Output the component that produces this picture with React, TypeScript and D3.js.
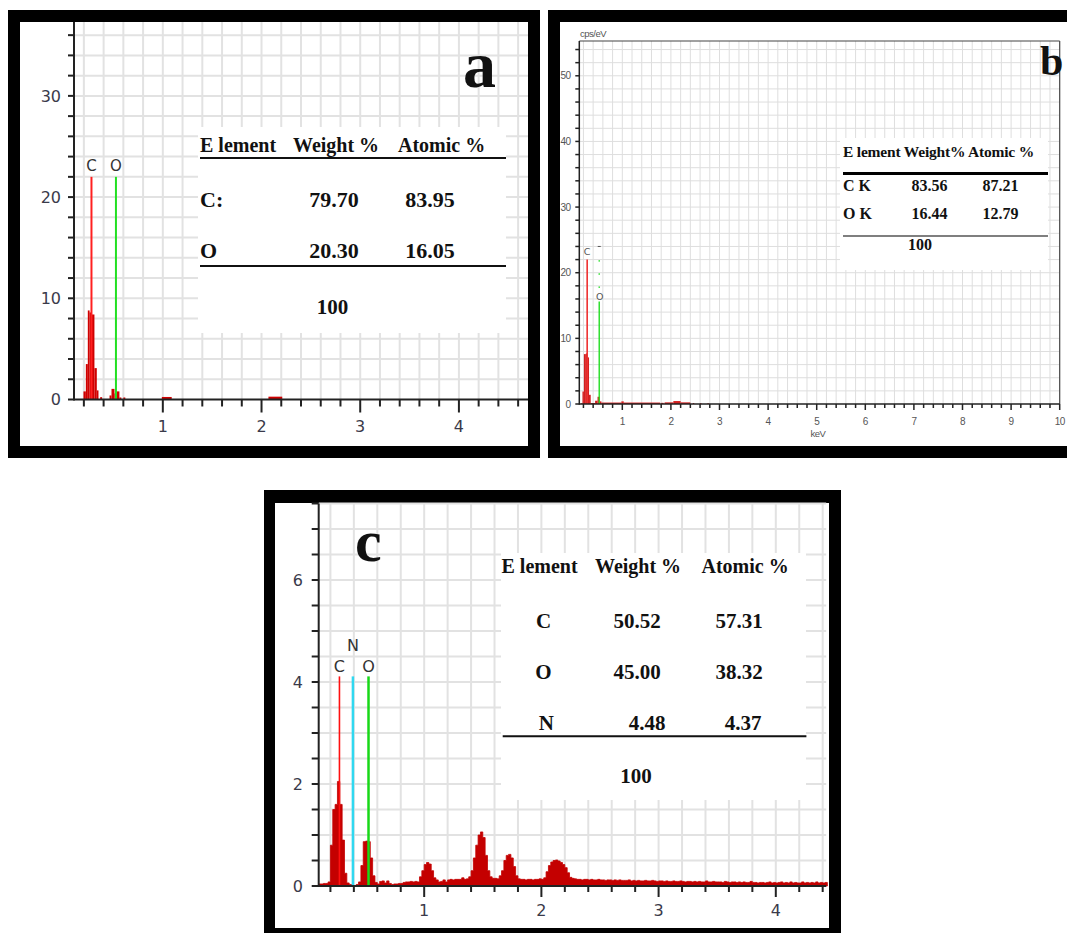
import React from "react";
import * as d3 from "d3";

// ---------- panel a (EDS spectrum, bins in keV) ----------
const aBinStart = [0.196, 0.22, 0.24, 0.258, 0.276, 0.307, 0.331, 0.365, 0.46, 0.48, 0.51, 0.53, 0.56, 0.6, 0.99, 2.07];
const aBinEnd = [0.22, 0.24, 0.258, 0.276, 0.307, 0.331, 0.348, 0.385, 0.48, 0.51, 0.53, 0.56, 0.58, 0.62, 1.09, 2.21];
const aCounts = [0.8, 3.5, 8.8, 8.6, 8.4, 3.1, 0.9, 0.23, 0.4, 1.05, 0.6, 0.8, 0.2, 0.2, 0.25, 0.28];
const aElements = ["C", "O"];
const aElementKeV = [0.277, 0.525];
const aElementTop = [22, 22];
const aYTicks = [0, 10, 20, 30];
const aXTicks = [1, 2, 3, 4];
const aHeader = ["E lement", "Weight %", "Atomic %"];
const aRowEl = ["C:", "O"];
const aWeight = ["79.70", "20.30"];
const aAtomic = ["83.95", "16.05"];

// ---------- panel b ----------
const bBinStart = [0.15, 0.18, 0.21, 0.25, 0.28, 0.315, 0.35, 0.44, 0.49, 0.54, 0.57, 0.98, 1.03, 1.8, 1.87, 2.05, 2.2, 2.45, 2.6, 2.75];
const bBinEnd = [0.18, 0.21, 0.25, 0.28, 0.315, 0.35, 0.44, 0.49, 0.54, 0.57, 0.98, 1.03, 1.78, 1.85, 2.05, 2.2, 2.4, 2.48, 2.63, 2.78];
const bCounts = [0.1, 1.9, 7.6, 7.7, 7.1, 1.4, 0.15, 0.5, 1.1, 0.4, 0.22, 0.4, 0.22, 0.18, 0.25, 0.45, 0.25, 0.15, 0.12, 0.12];
const bElements = ["C", "O"];
const bElementKeV = [0.277, 0.525];
const bElementTop = [22, 15.6];
const bYTicks = [0, 10, 20, 30, 40, 50];
const bXTicks = [1, 2, 3, 4, 5, 6, 7, 8, 9, 10];
const bRowEl = ["C K", "O K"];
const bWeight = ["83.56", "16.44"];
const bAtomic = ["87.21", "12.79"];

// ---------- panel c (channels of 0.02 keV from 0.10 keV) ----------
const cStartKeV = 0.1;
const cStepKeV = 0.02;
const cCounts = [
  0.04, 0.04, 0.05, 0.05, 0.08, 0.8, 1.5, 1.6, 2.05, 1.6,
  0.9, 0.25, 0.06, 0.03, 0.02, 0.0, 0.03, 0.08, 0.4, 0.87,
  0.88, 0.87, 0.55, 0.2, 0.07, 0.04, 0.09, 0.1, 0.06, 0.1,
  0.05, 0.03, 0.04, 0.04, 0.05, 0.05, 0.07, 0.08, 0.08, 0.09,
  0.08, 0.09, 0.08, 0.18, 0.3, 0.42, 0.46, 0.43, 0.3, 0.16,
  0.12, 0.08, 0.09, 0.12, 0.08, 0.12, 0.13, 0.12, 0.13, 0.13,
  0.13, 0.16, 0.13, 0.14, 0.18, 0.3, 0.55, 0.8, 1.0, 1.06,
  0.95, 0.6, 0.3, 0.18, 0.15, 0.15, 0.14, 0.2, 0.3, 0.5,
  0.6, 0.62, 0.55, 0.38, 0.2, 0.14, 0.13, 0.13, 0.12, 0.13,
  0.13, 0.12, 0.13, 0.13, 0.14, 0.13, 0.16, 0.28, 0.4, 0.47,
  0.5, 0.51, 0.49, 0.46, 0.42, 0.36, 0.26, 0.17, 0.15, 0.14,
  0.13, 0.13, 0.12, 0.13, 0.13, 0.12, 0.13, 0.12, 0.12, 0.13,
  0.12, 0.12, 0.11, 0.12, 0.12, 0.11, 0.12, 0.11, 0.12, 0.11,
  0.11, 0.11, 0.12, 0.1, 0.11, 0.1, 0.11, 0.1, 0.1, 0.11,
  0.1, 0.1, 0.11, 0.1, 0.09, 0.1, 0.1, 0.09, 0.1, 0.09,
  0.09, 0.1, 0.09, 0.09, 0.1, 0.09, 0.08, 0.09, 0.09, 0.08,
  0.09, 0.08, 0.09, 0.08, 0.08, 0.1, 0.08, 0.08, 0.09, 0.08,
  0.08, 0.08, 0.07, 0.09, 0.08, 0.07, 0.08, 0.08, 0.07, 0.08,
  0.07, 0.08, 0.07, 0.07, 0.09, 0.07, 0.07, 0.06, 0.07, 0.07,
  0.06, 0.07, 0.08, 0.06, 0.07, 0.06, 0.07, 0.08, 0.06, 0.07,
  0.06, 0.08, 0.06, 0.07, 0.06, 0.06, 0.08, 0.06, 0.07, 0.06,
  0.07, 0.06, 0.08, 0.06, 0.07, 0.06, 0.07,
];
const cElements = ["C", "N", "O"];
const cElementKeV = [0.277, 0.392, 0.525];
const cElementTop = [4.11, 4.11, 4.11];
const cYTicks = [0, 2, 4, 6];
const cXTicks = [1, 2, 3, 4];
const cRowEl = ["C", "O", "N"];
const cWeight = ["50.52", "45.00", "4.48"];
const cAtomic = ["57.31", "38.32", "4.37"];

type Scale = d3.ScaleLinear<number, number>;

const serif = "'Liberation Serif', 'Times New Roman', serif";
const sans = "'DejaVu Sans', Verdana, sans-serif";

function steps(a: number, b: number, s: number) {
  return d3.range(Math.round((b - a) / s) + 1).map((i) => +(a + i * s).toFixed(4));
}

function Grid({ x, y, xs, ys, color, width }: { x: Scale; y: Scale; xs: number[]; ys: number[]; color: string; width: number }) {
  const [x0, x1] = x.range();
  const [y0, y1] = y.range();
  return (
    <g stroke={color} strokeWidth={width}>
      {xs.map((v) => <line key={"gx" + v} x1={x(v)} x2={x(v)} y1={y0} y2={y1} />)}
      {ys.map((v) => <line key={"gy" + v} x1={x0} x2={x1} y1={y(v)} y2={y(v)} />)}
    </g>
  );
}

function Axes(p: {
  x: Scale; y: Scale; xMinor: number[]; xMajor: number[]; yMinor: number[]; yMajor: number[];
  xMinorLen: number; xMajorLen: number; yLen: number; width: number; color: string;
  size: number; font: string; labelColor: string; yLabelX: number; xLabelY: number; spacing?: number;
}) {
  const [x0, x1] = p.x.range();
  const [y0, y1] = p.y.range();
  return (
    <g>
      <g stroke={p.color} strokeWidth={p.width}>
        <line x1={x0} x2={x0} y1={y1} y2={y0 + p.width / 2} />
        <line x1={x0} x2={x1} y1={y0} y2={y0} />
        {p.yMinor.map((v) => <line key={"ty" + v} x1={x0 - p.yLen} x2={x0} y1={p.y(v)} y2={p.y(v)} />)}
        {p.xMinor.map((v) => (
          <line key={"tx" + v} x1={p.x(v)} x2={p.x(v)} y1={y0}
            y2={y0 + (Number.isInteger(v) ? p.xMajorLen : p.xMinorLen)} />
        ))}
      </g>
      <g fontFamily={p.font} fontSize={p.size} fill={p.labelColor} letterSpacing={p.spacing ?? 0}>
        {p.yMajor.map((v) => (
          <text key={"ly" + v} x={p.yLabelX} y={p.y(v)} dy="0.36em" textAnchor="end">{v}</text>
        ))}
        {p.xMajor.map((v) => (
          <text key={"lx" + v} x={p.x(v)} y={p.xLabelY} textAnchor="middle">{v}</text>
        ))}
      </g>
    </g>
  );
}

function Bins({ x, y, s, e, c, color }: { x: Scale; y: Scale; s: number[]; e: number[]; c: number[]; color: string }) {
  return (
    <g fill={color}>
      {s.map((v, i) => (
        <rect key={i} x={x(v)} width={x(e[i]) - x(v)} y={y(c[i])} height={y(0) - y(c[i])} />
      ))}
    </g>
  );
}

export default function App() {
  // panel a scales
  const ax = d3.scaleLinear().domain([0.1, 4.7]).range([74, 528]);
  const ay = d3.scaleLinear().domain([0, 37.3]).range([399.5, 22]);
  // panel b scales
  const bx = d3.scaleLinear().domain([0.115, 10]).range([579.3, 1059.7]);
  const by = d3.scaleLinear().domain([0, 55.3]).range([404, 41]);
  // panel c scales
  const cx = d3.scaleLinear().domain([0.1, 4.43]).range([318.7, 826.2]);
  const cy = d3.scaleLinear().domain([0, 7.5]).range([886, 503.5]);

  const cPts: [number, number][] = cCounts.map((v, i) => [cStartKeV + i * cStepKeV, v]);
  cPts.push([cStartKeV + cCounts.length * cStepKeV, cCounts[cCounts.length - 1]]);
  const cArea = d3.area<[number, number]>()
    .x((d) => cx(d[0]))
    .y0(cy(0))
    .y1((d) => cy(d[1]))
    .curve(d3.curveStepAfter);

  const aColors = ["#ff2020", "#22e022"];
  const cColors = ["#ff1010", "#30d8f0", "#18d818"];

  return (
    <svg width={1067} height={933} style={{ position: "absolute", left: 0, top: 0, background: "#fff" }}>
      {/* ===== panel a ===== */}
      <rect x={8} y={10} width={532} height={448} fill="#000" />
      <rect x={20} y={22} width={508} height={424} fill="#fff" />
      <Grid x={ax} y={ay} xs={steps(0.2, 4.6, 0.2)} ys={steps(2, 36, 2)} color="#e2e2e2" width={2} />
      <rect x={198} y={127} width={308} height={206} fill="#fff" />
      <Bins x={ax} y={ay} s={aBinStart} e={aBinEnd} c={aCounts} color="#d00000" />
      {aElements.map((el, i) => (
        <g key={el}>
          <line x1={ax(aElementKeV[i])} x2={ax(aElementKeV[i])} y1={ay(0)} y2={ay(aElementTop[i])}
            stroke={aColors[i]} strokeWidth={2} />
          <text x={ax(aElementKeV[i])} y={171} textAnchor="middle" fontFamily={sans} fontSize={15} fill="#333">{el}</text>
        </g>
      ))}
      <Axes x={ax} y={ay} xMinor={steps(0.2, 4.6, 0.2)} xMajor={aXTicks} yMinor={steps(0, 36, 2)} yMajor={aYTicks}
        xMinorLen={7} xMajorLen={13} yLen={6} width={2} color="#222" size={16} font={sans} labelColor="#3a3a4a"
        yLabelX={61} xLabelY={432} />
      <g fontFamily={serif} fontWeight="bold" fill="#111">
        <text x={200} y={151.5} fontSize={20}>{aHeader[0]}</text>
        <text x={293} y={151.5} fontSize={20}>{aHeader[1]}</text>
        <text x={398} y={151.5} fontSize={20}>{aHeader[2]}</text>
        {aRowEl.map((el, i) => (
          <g key={el} fontSize={22}>
            <text x={200} y={206.5 + i * 51}>{el}</text>
            <text x={334} y={206.5 + i * 51} textAnchor="middle">{aWeight[i]}</text>
            <text x={430} y={206.5 + i * 51} textAnchor="middle">{aAtomic[i]}</text>
          </g>
        ))}
        <text x={332.5} y={314} fontSize={21} textAnchor="middle">100</text>
        <text x={463} y={87} fontSize={66}>a</text>
      </g>
      <line x1={200} x2={506} y1={158} y2={158} stroke="#111" strokeWidth={2} />
      <line x1={200} x2={506} y1={266} y2={266} stroke="#111" strokeWidth={2} />

      {/* ===== panel b ===== */}
      <rect x={548} y={10} width={540} height={448} fill="#000" />
      <rect x={560} y={22} width={530} height={424} fill="#fff" />
      <Grid x={bx} y={by} xs={steps(0.2, 9.8, 0.2)} ys={steps(2, 54, 2)} color="#dedede" width={1} />
      <rect x={840} y={138} width={208} height={132} fill="#fff" />
      <Bins x={bx} y={by} s={bBinStart} e={bBinEnd} c={bCounts} color="#d42020" />
      <line x1={bx(bElementKeV[0])} x2={bx(bElementKeV[0])} y1={by(0)} y2={by(bElementTop[0])} stroke="#ee3030" strokeWidth={1.6} />
      <line x1={bx(bElementKeV[1])} x2={bx(bElementKeV[1])} y1={by(0)} y2={by(bElementTop[1])} stroke="#22dd22" strokeWidth={1.4} />
      {[17.8, 19.8, 21.8].map((v) => (
        <rect key={v} x={bx(bElementKeV[1]) - 0.7} y={by(v) - 0.7} width={1.4} height={1.4} fill="#22dd22" />
      ))}
      <line x1={bx(bElementKeV[1]) - 1.5} x2={bx(bElementKeV[1]) + 1.5} y1={by(24)} y2={by(24)} stroke="#555" strokeWidth={1} />
      <text x={bx(bElementKeV[0])} y={255} textAnchor="middle" fontFamily={sans} fontSize={9.5} fill="#555">{bElements[0]}</text>
      <text x={bx(bElementKeV[1]) + 0.5} y={299.5} textAnchor="middle" fontFamily={sans} fontSize={9.5} fill="#555">{bElements[1]}</text>
      <line x1={579.3} x2={1059.7} y1={41} y2={41} stroke="#444" strokeWidth={1.2} />
      <line x1={1059.7} x2={1059.7} y1={41} y2={404} stroke="#444" strokeWidth={1.2} />
      <Axes x={bx} y={by} xMinor={steps(0.2, 10, 0.2)} xMajor={bXTicks} yMinor={steps(0, 54, 2)} yMajor={bYTicks}
        xMinorLen={4} xMajorLen={6} yLen={4} width={1.5} color="#222" size={10} font="'Liberation Sans', Arial, sans-serif"
        labelColor="#555" yLabelX={570.5} xLabelY={424.5} spacing={-0.6} />
      <text x={580} y={37} fontFamily="'Liberation Sans', Arial, sans-serif" fontSize={9.5} fill="#555" letterSpacing={-0.5}>cps/eV</text>
      <text x={818} y={437} textAnchor="middle" fontFamily="'Liberation Sans', Arial, sans-serif" fontSize={9.5} fill="#555" letterSpacing={-0.5}>keV</text>
      <g fontFamily={serif} fontWeight="bold" fill="#111">
        <text x={843} y={157} fontSize={15.5} letterSpacing={-0.2}>E lement Weight% Atomic %</text>
        {bRowEl.map((el, i) => (
          <g key={el} fontSize={16}>
            <text x={843} y={190.7 + i * 28.6}>{el}</text>
            <text x={929.5} y={190.7 + i * 28.6} textAnchor="middle">{bWeight[i]}</text>
            <text x={1000.5} y={190.7 + i * 28.6} textAnchor="middle">{bAtomic[i]}</text>
          </g>
        ))}
        <text x={920} y={250} fontSize={16} textAnchor="middle">100</text>
        <text x={1040} y={75} fontSize={42}>b</text>
      </g>
      <line x1={843} x2={1048} y1={173.5} y2={173.5} stroke="#000" strokeWidth={3} />
      <line x1={843} x2={1048} y1={236} y2={236} stroke="#555" strokeWidth={1.6} />

      {/* ===== panel c ===== */}
      <rect x={264} y={490} width={577} height={450} fill="#000" />
      <rect x={275} y={503} width={554} height={425} fill="#fff" />
      <Grid x={cx} y={cy} xs={steps(0.2, 4.4, 0.2)} ys={steps(0.5, 7.5, 0.5)} color="#e2e2e2" width={2} />
      <rect x={501} y={553} width={305} height={247} fill="#fff" />
      <path d={cArea(cPts) ?? ""} fill="#c40000" stroke="#c40000" strokeWidth={0.8} strokeLinejoin="round" />
      {cElements.map((el, i) => (
        <g key={el}>
          <line x1={cx(cElementKeV[i])} x2={cx(cElementKeV[i])} y1={cy(0)} y2={cy(cElementTop[i])}
            stroke={cColors[i]} strokeWidth={i === 0 ? 1.6 : 2.5} />
          <text x={cx(cElementKeV[i])} y={el === "N" ? 650.5 : 672} textAnchor="middle" fontFamily={sans}
            fontSize={16} fill="#333">{el}</text>
        </g>
      ))}
      <Axes x={cx} y={cy} xMinor={steps(0.2, 4.4, 0.2)} xMajor={cXTicks} yMinor={steps(0, 7.5, 0.5)} yMajor={cYTicks}
        xMinorLen={6} xMajorLen={11} yLen={7} width={2} color="#222" size={16} font={sans} labelColor="#3a3a4a"
        yLabelX={303} xLabelY={915.5} />
      <g fontFamily={serif} fontWeight="bold" fill="#111">
        <text x={501.5} y={573} fontSize={20}>E lement</text>
        <text x={595} y={573} fontSize={20}>Weight %</text>
        <text x={701.5} y={573} fontSize={20}>Atomic %</text>
        {cRowEl.map((el, i) => (
          <g key={el} fontSize={21}>
            <text x={el === "N" ? 546.4 : 543.5} y={628 + i * 50.8} textAnchor="middle">{el}</text>
            <text x={el === "N" ? 647 : 637} y={628 + i * 50.8} textAnchor="middle">{cWeight[i]}</text>
            <text x={el === "N" ? 743 : 739} y={628 + i * 50.8} textAnchor="middle">{cAtomic[i]}</text>
          </g>
        ))}
        <text x={636} y={783} fontSize={21} textAnchor="middle">100</text>
        <text x={355} y={561} fontSize={60}>c</text>
      </g>
      <line x1={502.7} x2={806.4} y1={736.3} y2={736.3} stroke="#111" strokeWidth={2} />
    </svg>
  );
}
